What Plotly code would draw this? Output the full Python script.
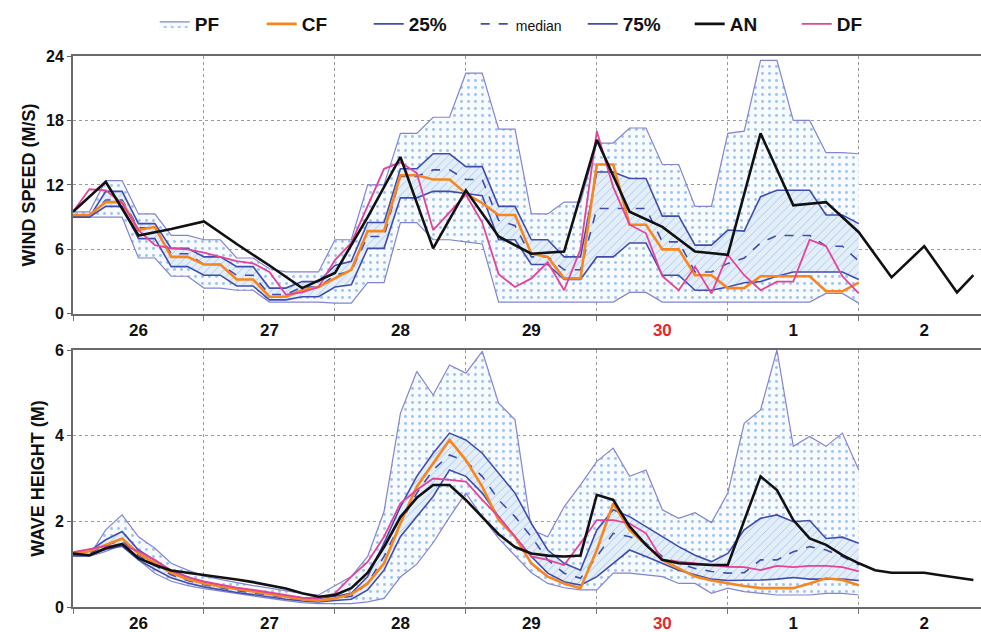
import plotly.graph_objects as go

# ---------------- data ----------------
# 3-hourly forecast times (hours after 26th 00 UTC)
HOURS_3H = [0, 3, 6, 9, 12, 15, 18, 21,
            24, 27, 30, 33, 36, 39, 42, 45,
            48, 51, 54, 57, 60, 63, 66, 69,
            72, 75, 78, 81, 84, 87, 90, 93,
            96, 99, 102, 105, 108, 111, 114, 117,
            120, 123, 126, 129, 132, 135, 138, 141,
            144]
# analysis times
HOURS_AN_WS = [0, 6, 12, 18, 24, 30, 36, 42, 48, 54, 60, 66, 72, 78, 84, 90,
               96, 102, 108, 114, 120, 126, 132, 138, 144, 150, 156, 162, 165]
HOURS_AN_WH = [0, 3, 6, 9, 12, 15, 18, 21,
               24, 27, 30, 33, 36, 39, 42, 45,
               48, 51, 54, 57, 60, 63, 66, 69,
               72, 75, 78, 81, 84, 87, 90, 93,
               96, 99, 102, 105, 108, 111, 114, 117,
               120, 123, 126, 129, 132, 135, 138, 141,
               144, 147, 150, 153, 156, 159, 162, 165]

DAY_CENTERS = [12, 36, 60, 84, 108, 132, 156]
DAY_LABELS = ["26", "27", "28", "29", "<span style='color:#e8262b'>30</span>", "1", "2"]

# Wind speed (m/s)
WS_MAX = [9.5, 9.5, 12.4, 12.4, 9.3, 9.3, 7.3, 7.3,
          6.9, 6.9, 5.2, 5.2, 4.2, 3.9, 3.9, 3.9,
          6.9, 6.9, 12.0, 12.0, 16.8, 16.8, 18.3, 18.3,
          22.4, 22.4, 17.2, 17.2, 9.3, 9.3, 10.4, 10.4,
          15.9, 15.9, 17.3, 17.3, 13.9, 13.9, 10.0, 10.0,
          16.8, 17.0, 23.6, 23.6, 18.0, 18.0, 15.0, 15.0,
          14.9]
WS_MIN = [9.0, 9.0, 9.0, 9.0, 5.2, 5.2, 3.5, 3.5,
          2.4, 2.4, 2.2, 2.2, 1.1, 1.1, 1.1, 1.1,
          1.0, 1.0, 2.9, 2.9, 8.5, 8.5, 6.9, 6.9,
          6.7, 6.5, 1.1, 1.1, 1.1, 1.1, 1.1, 1.1,
          1.1, 1.1, 2.0, 2.0, 1.1, 1.1, 1.1, 1.1,
          1.1, 1.1, 1.1, 1.1, 1.1, 1.1, 1.9, 1.9,
          1.0]
WS_P75 = [9.0, 9.0, 11.4, 11.4, 8.4, 8.4, 6.1, 6.1,
          5.3, 5.3, 4.4, 4.4, 2.4, 2.4, 3.0, 3.0,
          4.5, 4.9, 8.5, 8.5, 13.5, 13.5, 14.9, 14.9,
          13.7, 13.7, 10.0, 10.0, 6.9, 6.9, 5.3, 5.3,
          13.2, 13.2, 12.6, 12.6, 9.1, 9.1, 6.4, 6.4,
          7.8, 7.7, 10.9, 11.5, 11.5, 11.5, 9.2, 9.2,
          8.4]
WS_MED = [9.0, 9.0, 10.6, 10.6, 8.0, 8.0, 5.6, 5.6,
          4.6, 4.6, 3.6, 3.6, 1.8, 1.8, 2.5, 2.5,
          3.6, 4.0, 7.2, 7.2, 12.8, 12.8, 13.4, 13.4,
          12.5, 12.5, 8.7, 8.2, 5.3, 5.3, 4.1, 4.1,
          9.8, 9.8, 9.8, 9.8, 6.7, 6.7, 3.9, 3.9,
          4.7, 5.2, 6.6, 7.3, 7.3, 7.3, 6.3, 6.3,
          4.9]
WS_P25 = [9.0, 9.0, 10.0, 10.0, 7.0, 7.0, 4.4, 4.4,
          3.6, 3.6, 2.6, 2.6, 1.3, 1.3, 1.6, 1.6,
          2.5, 2.7, 6.1, 6.1, 10.8, 10.8, 11.4, 11.4,
          11.2, 11.0, 6.9, 6.9, 4.6, 4.6, 3.2, 3.2,
          5.3, 5.3, 6.6, 6.6, 3.6, 3.6, 2.2, 2.2,
          2.5, 2.9, 3.0, 3.5, 3.9, 3.9, 3.9, 3.9,
          3.2]
WS_CF = [9.2, 9.2, 10.4, 10.4, 7.8, 8.1, 5.3, 5.3,
         4.6, 4.6, 3.2, 3.2, 1.6, 1.6, 2.2, 2.5,
         3.3, 4.1, 7.7, 7.7, 12.9, 12.9, 12.5, 12.5,
         11.2, 10.3, 9.2, 9.2, 5.6, 5.3, 3.3, 3.3,
         13.9, 13.9, 8.3, 8.3, 6.0, 6.0, 3.6, 3.6,
         2.4, 2.4, 3.5, 3.5, 3.5, 3.5, 2.1, 2.1,
         2.9]
WS_DF = [9.5, 11.6, 11.5, 10.3, 7.8, 6.4, 6.1, 6.0,
         5.7, 5.3, 4.9, 4.7, 3.9, 1.8, 2.0, 2.5,
         5.0, 6.6, 10.0, 13.5, 14.1, 13.1, 7.8, 9.5,
         11.1, 8.5, 3.7, 2.5, 3.3, 4.8, 2.2, 6.0,
         17.0, 11.8, 8.3, 7.5, 3.5, 2.2, 4.4, 1.9,
         5.5, 3.6, 2.2, 3.0, 3.0, 6.9, 6.3, 3.5,
         1.9]
WS_AN = [9.5, 12.3, 7.3, 7.9, 8.6, 6.5, 4.5, 2.4, 3.8, 9.0, 14.6, 6.1, 11.5, 7.2,
         5.6, 5.8, 16.2, 9.5, 8.1, 5.8, 5.5, 16.8, 10.1, 10.4, 7.6, 3.4, 6.3, 2.0, 3.6]

# Wave height (m)
WH_MAX = [1.25, 1.2, 1.8, 2.15, 1.64, 1.37, 1.02, 0.86,
          0.72, 0.64, 0.57, 0.5, 0.44, 0.38, 0.32, 0.28,
          0.5, 0.71, 1.18, 2.23, 4.52, 5.5, 4.95, 5.65,
          5.46, 5.97, 4.76, 4.37, 1.8, 1.64, 2.34, 2.85,
          3.4, 3.71, 3.05, 3.2, 2.27, 2.07, 2.2, 1.97,
          2.66, 4.29, 4.6, 6.0, 3.75, 3.98, 3.75, 4.06,
          3.2]
WH_MIN = [1.18, 1.18, 1.3, 1.45, 1.1, 0.79, 0.6, 0.5,
          0.43, 0.37, 0.32, 0.26, 0.2, 0.15, 0.1, 0.08,
          0.08, 0.08, 0.12, 0.2, 0.7, 1.0, 1.5, 2.1,
          2.66, 2.1, 1.6, 1.2, 0.8, 0.55, 0.45, 0.4,
          0.4, 0.79, 0.79, 0.75, 0.71, 0.55, 0.55, 0.32,
          0.44, 0.36, 0.32, 0.28, 0.28, 0.28, 0.32, 0.32,
          0.28]
WH_P75 = [1.25, 1.3, 1.57, 1.76, 1.33, 1.1, 0.85, 0.7,
          0.58, 0.5, 0.44, 0.38, 0.32, 0.26, 0.21, 0.2,
          0.25, 0.32, 0.71, 1.49, 2.34, 3.05, 3.59, 4.06,
          3.9, 3.59, 3.12, 2.66, 1.95, 1.33, 1.02, 0.86,
          1.8, 2.27, 2.11, 1.88, 1.64, 1.41, 1.21, 1.06,
          1.25, 1.8, 2.07, 2.15, 1.99, 2.02, 1.6, 1.63,
          1.49]
WH_MED = [1.22, 1.25, 1.45, 1.55, 1.2, 0.98, 0.75, 0.62,
          0.52, 0.45, 0.38, 0.33, 0.27, 0.22, 0.17, 0.15,
          0.2, 0.25, 0.55, 1.18, 1.95, 2.66, 3.2, 3.55,
          3.4, 3.05, 2.5, 2.11, 1.64, 1.1, 0.79, 0.67,
          1.18, 1.72, 1.64, 1.49, 1.18, 1.02, 0.9, 0.83,
          0.79, 0.8, 1.1, 1.1, 1.29, 1.41, 1.33, 1.18,
          0.98]
WH_P25 = [1.2, 1.2, 1.35, 1.42, 1.1, 0.88, 0.68, 0.56,
          0.47, 0.4, 0.34, 0.29, 0.23, 0.18, 0.14, 0.12,
          0.15, 0.18, 0.4, 0.86, 1.64, 2.11, 2.58, 3.2,
          3.05, 2.66, 2.11, 1.64, 1.18, 0.79, 0.59, 0.51,
          0.71, 1.02, 1.33, 1.18, 1.02, 0.86, 0.75, 0.65,
          0.62, 0.62, 0.63, 0.65, 0.69, 0.65, 0.65, 0.65,
          0.62]
WH_CF = [1.25, 1.3, 1.45, 1.6, 1.25, 1.02, 0.8, 0.65,
         0.55, 0.48, 0.42, 0.36, 0.3, 0.24, 0.18, 0.15,
         0.2, 0.3, 0.55, 1.02, 1.95, 2.81, 3.36, 3.9,
         3.43, 2.81, 2.03, 1.64, 1.02, 0.71, 0.55, 0.44,
         1.33, 2.42, 1.8, 1.45, 1.1, 0.9, 0.71, 0.62,
         0.55, 0.49, 0.44, 0.44, 0.44, 0.55, 0.67, 0.63,
         0.51]
WH_DF = [1.28, 1.35, 1.42, 1.45, 1.3, 1.1, 0.85, 0.7,
         0.6, 0.52, 0.45, 0.4, 0.34, 0.28, 0.22, 0.2,
         0.32, 0.71, 1.05, 1.64, 2.42, 2.73, 3.0, 2.97,
         2.93, 2.5, 2.11, 1.64, 1.18, 1.1, 0.98, 1.49,
         2.03, 2.03, 1.95, 1.72, 1.1, 1.06, 1.02, 0.98,
         0.94, 0.93, 0.86, 0.96, 0.93, 0.96, 0.96, 0.93,
         0.83]
WH_AN = [1.25, 1.21, 1.37, 1.47, 1.14, 0.98, 0.85, 0.8,
         0.75, 0.7, 0.64, 0.58, 0.5, 0.43, 0.32, 0.24,
         0.28, 0.44, 0.8, 1.4, 2.1, 2.55, 2.85, 2.85,
         2.5, 2.1, 1.7, 1.4, 1.25, 1.2, 1.18, 1.2,
         2.62, 2.5, 1.88, 1.45, 1.1, 1.02, 1.0, 0.98,
         0.98, 2.0, 3.05, 2.73, 2.03, 1.6, 1.45, 1.21,
         1.02, 0.86, 0.8, 0.8, 0.8, 0.74, 0.68, 0.63]

# ---------------- styles ----------------
C_PF = "#8484d2"
C_Q = "#3f4db0"
C_CF = "#f7861e"
C_AN = "#111111"
C_DF = "#e2449a"
FONT = "Liberation Sans, Arial, Helvetica, sans-serif"

fig = go.Figure()


def add_panel(xa, ya, vmin, vmax, p25, med, p75, cf, df, an_x, an, show):
    fig.add_trace(go.Scatter(x=HOURS_3H, y=vmin, mode="lines", xaxis=xa, yaxis=ya,
                             line=dict(color=C_PF, width=1.2), showlegend=False,
                             hoverinfo="skip"))
    fig.add_trace(go.Scatter(x=HOURS_3H, y=vmax, mode="lines", xaxis=xa, yaxis=ya,
                             name="PF", legendrank=1, showlegend=show, legendgroup="PF",
                             line=dict(color=C_PF, width=1.2), fill="tonexty",
                             fillpattern=dict(shape=".", size=7, solidity=0.14,
                                              fgcolor="#9ec3ec", bgcolor="#f7fafe",
                                              fillmode="replace")))
    fig.add_trace(go.Scatter(x=HOURS_3H, y=p25, mode="lines", xaxis=xa, yaxis=ya,
                             line=dict(width=0, color=C_Q), showlegend=False,
                             hoverinfo="skip"))
    fig.add_trace(go.Scatter(x=HOURS_3H, y=p75, mode="lines", xaxis=xa, yaxis=ya,
                             line=dict(width=0, color=C_Q), showlegend=False,
                             fill="tonexty", hoverinfo="skip",
                             fillpattern=dict(shape="/", size=6, solidity=0.15,
                                              fgcolor="#a5c6ea", bgcolor="#e3eef9",
                                              fillmode="replace")))
    fig.add_trace(go.Scatter(x=HOURS_3H, y=p25, mode="lines", xaxis=xa, yaxis=ya,
                             name="25%", legendrank=3, showlegend=show,
                             line=dict(color=C_Q, width=1.6)))
    fig.add_trace(go.Scatter(x=HOURS_3H, y=med, mode="lines", xaxis=xa, yaxis=ya,
                             name="<span style='font-size:14px;font-weight:normal'>median</span>",
                             legendrank=4, showlegend=show,
                             line=dict(color=C_Q, width=1.6, dash="dash")))
    fig.add_trace(go.Scatter(x=HOURS_3H, y=p75, mode="lines", xaxis=xa, yaxis=ya,
                             name="75%", legendrank=5, showlegend=show,
                             line=dict(color=C_Q, width=1.6)))
    fig.add_trace(go.Scatter(x=HOURS_3H, y=cf, mode="lines", xaxis=xa, yaxis=ya,
                             name="CF", legendrank=2, showlegend=show,
                             line=dict(color=C_CF, width=2.6)))
    fig.add_trace(go.Scatter(x=HOURS_3H, y=df, mode="lines", xaxis=xa, yaxis=ya,
                             name="DF", legendrank=7, showlegend=show,
                             line=dict(color=C_DF, width=1.8)))
    fig.add_trace(go.Scatter(x=an_x, y=an, mode="lines", xaxis=xa, yaxis=ya,
                             name="AN", legendrank=6, showlegend=show,
                             line=dict(color=C_AN, width=2.6)))


add_panel("x", "y", WS_MIN, WS_MAX, WS_P25, WS_MED, WS_P75, WS_CF, WS_DF,
          HOURS_AN_WS, WS_AN, True)
add_panel("x2", "y2", WH_MIN, WH_MAX, WH_P25, WH_MED, WH_P75, WH_CF, WH_DF,
          HOURS_AN_WH, WH_AN, False)

GRID = "#9a9a9a"
xcommon = dict(range=[0, 166.4], tickmode="array", tickvals=DAY_CENTERS,
               ticktext=DAY_LABELS, ticks="", showgrid=False, zeroline=False,
               tickfont=dict(family=FONT, size=17, color="#111", weight="bold"),
               minor=dict(tick0=0, dtick=24, showgrid=True, gridcolor=GRID,
                          griddash="dot", gridwidth=1, ticks="outside", ticklen=5,
                          tickcolor="#777"),
               showline=True, mirror=True, linecolor="#6a6a6a", linewidth=2)
ycommon = dict(showgrid=True, gridcolor=GRID, griddash="dot", gridwidth=1,
               zeroline=False, ticks="outside", ticklen=4, tickcolor="#666",
               showline=True, mirror=False, linecolor="#6a6a6a", linewidth=2,
               tickfont=dict(family=FONT, size=16, color="#111", weight="bold"))

fig.update_layout(
    width=981, height=632,
    margin=dict(l=73, r=0, t=56, b=25),
    paper_bgcolor="white", plot_bgcolor="white",
    font=dict(family=FONT, color="#111"),
    xaxis=dict(domain=[0, 1], anchor="y", **xcommon),
    xaxis2=dict(domain=[0, 1], anchor="y2", matches="x", **xcommon),
    yaxis=dict(domain=[0.532, 1], anchor="x", range=[0, 24],
               tickvals=[0, 6, 12, 18, 24],
               title=dict(text="WIND SPEED (M/S)", standoff=6,
                          font=dict(family=FONT, size=18, color="#111", weight="bold")),
               **ycommon),
    yaxis2=dict(domain=[0, 0.4664], anchor="x2", range=[0, 6],
                tickvals=[0, 2, 4, 6],
                title=dict(text="WAVE HEIGHT (M)", standoff=6,
                           font=dict(family=FONT, size=18, color="#111", weight="bold")),
                **ycommon),
    legend=dict(orientation="h", x=0.09, y=1.058, xanchor="left", yanchor="middle",
                font=dict(family=FONT, size=19, color="#111", weight="bold"),
                entrywidth=62, entrywidthmode="pixels", itemwidth=30,
                bgcolor="rgba(0,0,0,0)", traceorder="normal"),
    showlegend=True,
)

fig.write_html("out.html")
